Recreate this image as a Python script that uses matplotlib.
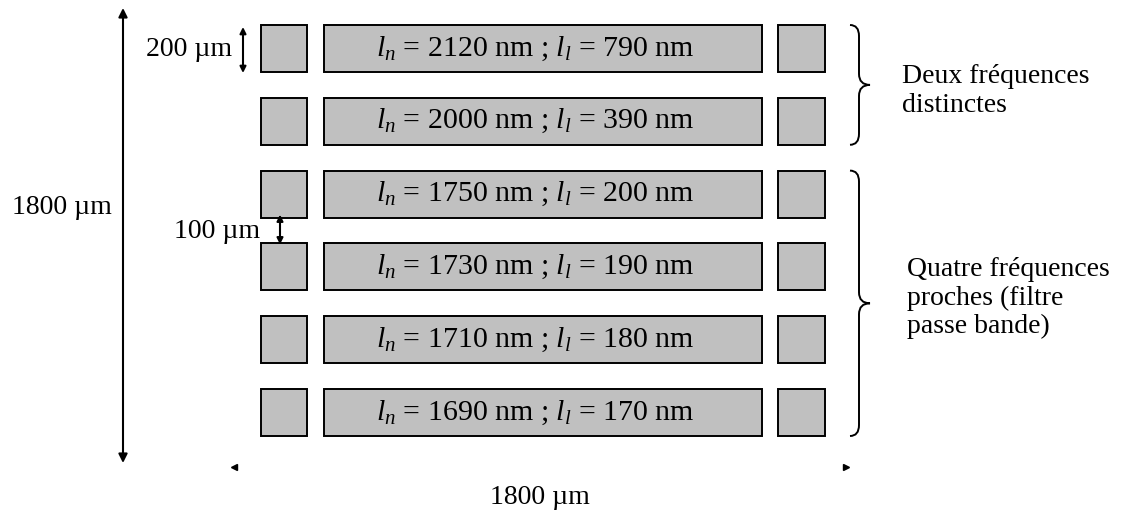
import matplotlib
matplotlib.use("Agg")
import matplotlib.pyplot as plt
from matplotlib.patches import Rectangle, PathPatch
from matplotlib.path import Path

plt.rcParams['font.family'] = ['Liberation Serif', 'DejaVu Serif']
plt.rcParams['mathtext.fontset'] = 'custom'
plt.rcParams['mathtext.rm'] = 'Liberation Serif'
plt.rcParams['mathtext.it'] = 'Liberation Serif:italic'

# ---- data ----
ln_values = [2120, 2000, 1750, 1730, 1710, 1690]
ll_values = [790, 390, 200, 190, 180, 170]
group_labels = ["Deux fréquences\ndistinctes", "Quatre fréquences\nproches (filtre\npasse bande)"]
group_sizes = [2, 4]
size_label = "1800 µm"
pad_label = "200 µm"
gap_label = "100 µm"

FS = 20
fig = plt.figure(figsize=(11.32, 5.17), dpi=100)
ax = fig.add_axes([0, 0, 1, 1])
ax.set_xlim(0, 1132)
ax.set_ylim(517, 0)
ax.axis('off')

row_top0, row_step, row_h = 25, 72.8, 47
cols = [(261, 46), (324, 438), (778, 47)]
gray = '#c0c0c0'

def row_top(i):
    return row_top0 + i * row_step

for i, (ln, ll) in enumerate(zip(ln_values, ll_values)):
    t = row_top(i)
    for (x, w) in cols:
        ax.add_patch(Rectangle((x, t), w, row_h, fc=gray, ec='black', lw=1.4))
    cx = cols[1][0] + cols[1][1] / 2 - 8
    ax.text(cx, t + row_h / 2, rf"$l_n$ = {ln} nm ; $l_l$ = {ll} nm",
            ha='center', va='center', fontsize=21.5)

def brace(x0, ytop, ybot, w, r=11):
    xm = x0 + w * 0.45
    ymid = (ytop + ybot) / 2
    verts = [(x0, ytop), (xm, ytop), (xm, ytop + r),
             (xm, ymid - r), (xm, ymid), (x0 + w, ymid),
             (xm, ymid), (xm, ymid + r),
             (xm, ybot - r), (xm, ybot), (x0, ybot)]
    codes = [Path.MOVETO, Path.CURVE3, Path.CURVE3,
             Path.LINETO, Path.CURVE3, Path.CURVE3,
             Path.CURVE3, Path.CURVE3,
             Path.LINETO, Path.CURVE3, Path.CURVE3]
    ax.add_patch(PathPatch(Path(verts, codes), fc='none', ec='black', lw=1.4))

start = 0
text_pos = [(902, 6), (907, -5)]
for g, (n, lab) in enumerate(zip(group_sizes, group_labels)):
    ytop = row_top(start)
    ybot = row_top(start + n - 1) + row_h
    brace(850, ytop, ybot, 20)
    ymid = (ytop + ybot) / 2
    tx, dy = text_pos[g]
    ax.text(tx, ymid + dy, lab, ha='left', va='center', fontsize=FS, linespacing=1.18)
    start += n

arrow = dict(arrowstyle='<|-|>', mutation_scale=13, lw=1.5, color='black',
             shrinkA=0, shrinkB=0)
small_arrow = dict(arrowstyle='<|-|>', mutation_scale=9, lw=1.5, color='black',
                   shrinkA=0, shrinkB=0)

# big vertical dimension
ax.annotate('', xy=(123, 8), xytext=(123, 463), arrowprops=arrow)
ax.text(62, 207, size_label, ha='center', va='center', fontsize=FS)

# 200 um pad size
ax.annotate('', xy=(243, 27), xytext=(243, 73), arrowprops=small_arrow)
ax.text(189, 50, pad_label, ha='center', va='center', fontsize=FS)

# 100 um gap
ax.annotate('', xy=(280, row_top(2) + row_h - 3), xytext=(280, row_top(3) + 1), arrowprops=small_arrow)
ax.text(217, 232, gap_label, ha='center', va='center', fontsize=FS)

# horizontal dimension (only arrowheads visible)
ax.plot([234], [467], marker='<', ms=4, color='black')
ax.plot([846], [467], marker='>', ms=4, color='black')
ax.text(540, 498, size_label, ha='center', va='center', fontsize=FS)

fig.savefig('out.png', dpi=100)
